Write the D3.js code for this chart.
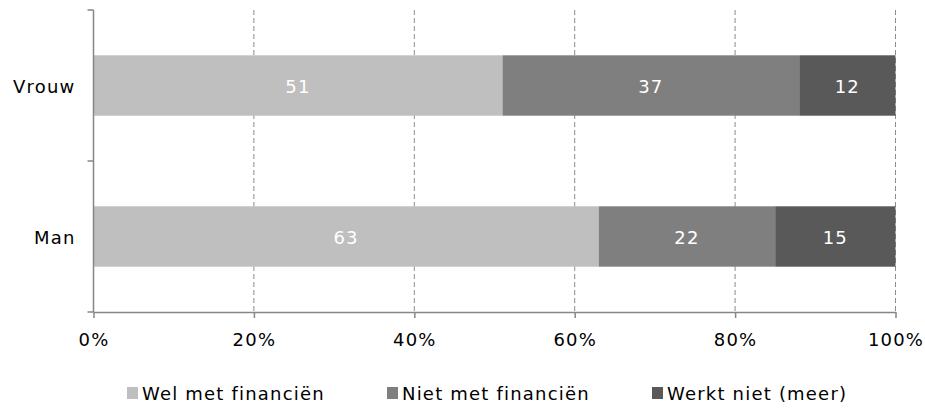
<!DOCTYPE html>
<html>
<head>
<meta charset="utf-8">
<script src="https://cdn.jsdelivr.net/npm/d3@7"></script>
<style>
  body { margin: 0; background: #fff; }
  text { font-family: "DejaVu Sans", Verdana, sans-serif; letter-spacing: 1.2px; }
</style>
</head>
<body>
<div id="chart"></div>
<script>
// categories, top to bottom
var categories = ["Vrouw", "Man"];
// series (percentages)
var seriesNames = ["Wel met financiën", "Niet met financiën", "Werkt niet (meer)"];
var welMet = [51, 63];
var nietMet = [37, 22];
var werktNiet = [12, 15];
var xTicks = [0, 20, 40, 60, 80, 100];
var colors = ["#bfbfbf", "#7f7f7f", "#595959"];

var W = 925, H = 409;
var margin = { top: 10, right: 29.5, bottom: 97, left: 93.5 };
var width = W - margin.left - margin.right;
var height = H - margin.top - margin.bottom;

var svg = d3.select("#chart").append("svg")
  .attr("width", W).attr("height", H);
var g = svg.append("g")
  .attr("transform", "translate(" + margin.left + "," + margin.top + ")");

var x = d3.scaleLinear().domain([0, 100]).range([0, width]);
var y = d3.scaleBand().domain(categories).range([0, height]).paddingInner(0.6).paddingOuter(0.3);

// gridlines
g.selectAll(".grid").data(xTicks.slice(1))
  .enter().append("line")
  .attr("x1", function(d) { return x(d); })
  .attr("x2", function(d) { return x(d); })
  .attr("y1", 0).attr("y2", height)
  .attr("stroke", "#8c8c8c")
  .attr("stroke-width", 1)
  .attr("stroke-dasharray", "5,3");

// stack the data
var rows = categories.map(function(c, i) {
  return { cat: c, a: welMet[i], b: nietMet[i], c: werktNiet[i] };
});
var stack = d3.stack().keys(["a", "b", "c"]);
var layers = stack(rows);

var layer = g.selectAll(".layer").data(layers).enter().append("g")
  .attr("fill", function(d, i) { return colors[i]; });

layer.selectAll("rect").data(function(d) { return d; })
  .enter().append("rect")
  .attr("x", function(d) { return x(d[0]); })
  .attr("width", function(d) { return x(d[1]) - x(d[0]); })
  .attr("y", function(d) { return y(d.data.cat); })
  .attr("height", y.bandwidth());

layer.selectAll("text").data(function(d) { return d; })
  .enter().append("text")
  .attr("x", function(d) { return (x(d[0]) + x(d[1])) / 2; })
  .attr("y", function(d) { return y(d.data.cat) + y.bandwidth() / 2 + 1; })
  .attr("dy", "0.36em")
  .attr("text-anchor", "middle")
  .attr("fill", "#fff")
  .style("font-size", "18px")
  .text(function(d) { return d[1] - d[0]; });

// y axis: ticks at band boundaries
var yBounds = [0, height / 2, height];
g.append("line").attr("x1", 0).attr("x2", 0).attr("y1", 0).attr("y2", height)
  .attr("stroke", "#868686").attr("stroke-width", 1.5);
g.selectAll(".ytick").data(yBounds).enter().append("line")
  .attr("x1", -6).attr("x2", 0)
  .attr("y1", function(d) { return d; }).attr("y2", function(d) { return d; })
  .attr("stroke", "#868686").attr("stroke-width", 1.5);
g.selectAll(".ylab").data(categories).enter().append("text")
  .attr("x", -18)
  .attr("y", function(d) { return y(d) + y.bandwidth() / 2 + 1; })
  .attr("dy", "0.36em")
  .attr("text-anchor", "end")
  .attr("fill", "#000")
  .style("font-size", "18px")
  .text(function(d) { return d; });

// x axis
var xAxis = g.append("g")
  .attr("transform", "translate(0," + height + ")")
  .call(d3.axisBottom(x).tickValues(xTicks).tickSize(6).tickSizeOuter(0)
    .tickFormat(function(d) { return d + "%"; }));
xAxis.select(".domain").attr("stroke", "#868686").attr("stroke-width", 1.5);
xAxis.selectAll(".tick line").attr("stroke", "#868686").attr("stroke-width", 1.5);
xAxis.selectAll(".tick text")
  .attr("y", 21)
  .attr("fill", "#000")
  .style("font-size", "18px")
  .style("font-family", "'DejaVu Sans', Verdana, sans-serif");

// legend
var legendX = [127, 387, 652];
var legend = svg.selectAll(".legend").data(seriesNames).enter().append("g")
  .attr("transform", function(d, i) { return "translate(" + legendX[i] + ",393.5)"; });
legend.append("rect")
  .attr("x", 0).attr("y", -6.5).attr("width", 11).attr("height", 12)
  .attr("fill", function(d, i) { return colors[i]; });
legend.append("text")
  .attr("x", 15).attr("y", 0).attr("dy", "0.36em")
  .attr("fill", "#000")
  .style("font-size", "18px")
  .text(function(d) { return d; });
</script>
</body>
</html>
